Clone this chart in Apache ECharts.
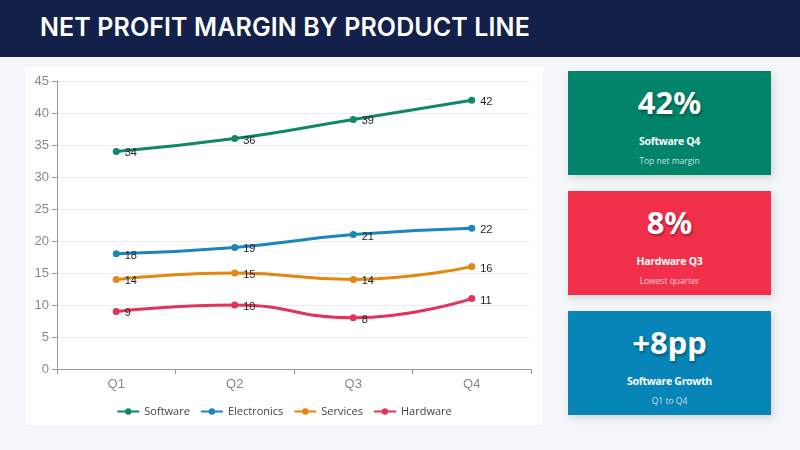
<!DOCTYPE html>
<html>
<head>
<meta charset="utf-8">
<script src="https://cdn.jsdelivr.net/npm/echarts@6/dist/echarts.min.js"></script>
<style>
  html, body { margin:0; padding:0; width:800px; height:450px; background:#f4f6fa; font-family:"Inter","Noto Sans",sans-serif; overflow:hidden; }
  #header { position:absolute; left:0; top:0; width:800px; height:57px; background:#13204a; }
  #header h1 { margin:0; position:absolute; left:40px; top:12px; color:#fff; font-size:25px; font-weight:600; letter-spacing:0.1px; font-family:"Inter","Noto Sans",sans-serif; }
  #panel { position:absolute; left:25px; top:67px; width:518px; height:358px; background:#fff; }
  #chart { width:518px; height:358px; }
  .card { position:absolute; left:568px; width:203px; height:104px; color:#fff; text-align:center; box-shadow:2px 3px 8px rgba(0,0,0,0.15); font-family:"Open Sans","Noto Sans",sans-serif; }
  .card .big { position:absolute; left:0; right:0; top:10px; font-size:31px; font-weight:700; text-shadow:1px 2px 3px rgba(0,0,0,0.35); font-family:"Noto Sans",sans-serif; }
  .card .sub { position:absolute; left:0; right:0; top:63px; font-size:10.5px; font-weight:700; letter-spacing:-0.3px; }
  .card .note { position:absolute; left:0; right:0; top:84px; font-size:8.5px; opacity:0.75; }
</style>
</head>
<body>
<div id="header"><h1>NET PROFIT MARGIN BY PRODUCT LINE</h1></div>
<div id="panel"><div id="chart"></div></div>
<div class="card" style="top:71px;background:#02846a;"><div class="big">42%</div><div class="sub">Software Q4</div><div class="note">Top net margin</div></div>
<div class="card" style="top:191px;background:#f2304b;"><div class="big">8%</div><div class="sub">Hardware Q3</div><div class="note">Lowest quarter</div></div>
<div class="card" style="top:311px;background:#0784b8;"><div class="big">+8pp</div><div class="sub">Software Growth</div><div class="note">Q1 to Q4</div></div>
<script>
const categories = ["Q1", "Q2", "Q3", "Q4"];
const software = [34, 36, 39, 42];
const electronics = [18, 19, 21, 22];
const services = [14, 15, 14, 16];
const hardware = [9, 10, 8, 11];
const seriesNames = ["Software", "Electronics", "Services", "Hardware"];
const seriesColors = ["#11876a", "#1a86ba", "#e0880f", "#e0345a"];
const yTicks = [0, 5, 10, 15, 20, 25, 30, 35, 40, 45];

const dataSets = [software, electronics, services, hardware];
const chart = echarts.init(document.getElementById('chart'));
chart.setOption({
  animation: false,
  grid: { left: 32, right: 12, top: 14, bottom: 56 },
  legend: {
    bottom: 3, left: 'center', itemWidth: 22, itemHeight: 8, itemGap: 10,
    textStyle: { fontSize: 11, color: '#444', fontFamily: 'Open Sans' },
    data: seriesNames
  },
  xAxis: {
    type: 'category', data: categories, boundaryGap: true,
    axisLine: { lineStyle: { color: '#999' } },
    axisTick: { show: true, lineStyle: { color: '#999' } },
    axisLabel: { fontSize: 13, color: '#888', margin: 9, fontFamily: 'Liberation Sans' }
  },
  yAxis: {
    type: 'value', min: yTicks[0], max: yTicks[yTicks.length - 1], interval: 5,
    axisLine: { show: true, lineStyle: { color: '#999' } },
    axisTick: { show: true, lineStyle: { color: '#999' } },
    axisLabel: { fontSize: 13, color: '#888', margin: 8, fontFamily: 'Liberation Sans' },
    splitLine: { lineStyle: { color: '#ececf0' } }
  },
  series: seriesNames.map((n, i) => ({
    name: n, type: 'line', smooth: true, data: dataSets[i],
    symbol: 'circle', symbolSize: 7,
    lineStyle: { width: 3, color: seriesColors[i] },
    itemStyle: { color: seriesColors[i] },
    label: { show: true, position: 'right', offset: [0, 2], fontSize: 11, color: '#222', fontFamily: 'Liberation Sans' }
  }))
});
</script>
</body>
</html>
